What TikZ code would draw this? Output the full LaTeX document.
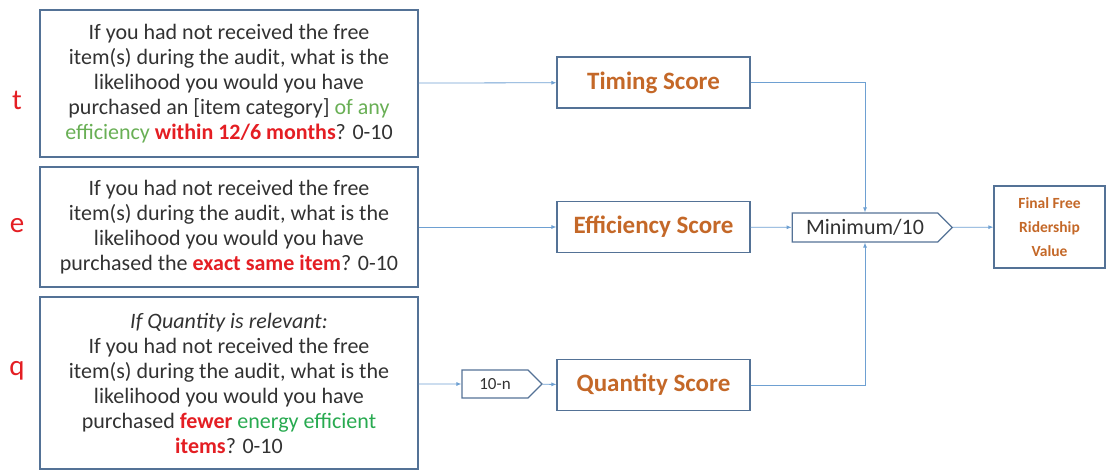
\documentclass[tikz,border=0pt]{standalone}
\usepackage{fontspec}
\setmainfont{Carlito}
\usetikzlibrary{arrows.meta,shapes.symbols}
\definecolor{boxline}{RGB}{84,114,150}
\definecolor{wireblue}{RGB}{110,160,210}
\definecolor{txt}{RGB}{50,50,50}
\definecolor{hot}{RGB}{228,30,35}
\definecolor{leaf}{RGB}{105,175,85}
\definecolor{leafb}{RGB}{40,170,80}
\definecolor{scorecol}{RGB}{196,104,40}
\begin{document}
\begin{tikzpicture}[x=1pt,y=-1pt,
  qbox/.style={draw=boxline,line width=1.2pt,minimum width=378pt,align=center,text=txt,font=\fontsize{22}{25}\selectfont},
  scorebox/.style={draw=boxline,line width=1.2pt,minimum width=193pt,minimum height=51pt,text=scorecol,font=\fontsize{25}{28}\selectfont\bfseries},
  opbox/.style={draw=boxline,line width=1.2pt,signal,signal to=east,signal pointer angle=90,text=txt},
  wire/.style={draw=wireblue,line width=0.8pt,-{Latex[length=5pt,width=4pt]}}]
\useasboundingbox (0,0) rectangle (1107,471);

% questions
\node[qbox,minimum height=147pt] (qt) at (229,83.5) {If you had not received the free\\item(s) during the audit, what is the\\likelihood you would you have\\purchased an [item category] \textcolor{leaf}{of any}\\\textcolor{leaf}{efficiency} \textcolor{hot}{\textbf{within 12/6 months}}? 0-10};
\node[qbox,minimum height=120pt] (qe) at (229,227) {If you had not received the free\\item(s) during the audit, what is the\\likelihood you would you have\\purchased the \textcolor{hot}{\textbf{exact same item}}? 0-10};
\node[qbox,minimum height=172pt] (qq) at (229,383) {\textit{If Quantity is relevant:}\\If you had not received the free\\item(s) during the audit, what is the\\likelihood you would you have\\purchased \textcolor{hot}{\textbf{fewer}} \textcolor{leafb}{energy efficient}\\\textcolor{hot}{\textbf{items}}? 0-10};

\foreach \l/\y in {t/100,e/226,q/371}
  \node[text=hot,font=\fontsize{29}{30}\selectfont] (lab\l) at (17,\y) {\l};

% scores
\node[scorebox] (timing) at (653.5,82.5) {Timing Score};
\node[scorebox] (eff) at (653.5,227) {Efficiency Score};
\node[scorebox] (qty) at (653.5,385) {Quantity Score};
\node[opbox,minimum width=160pt,minimum height=29pt,font=\fontsize{22}{24}\selectfont] (minv) at (865,227.5) {Minimum/10};
\node[opbox,minimum width=80pt,minimum height=28pt,font=\fontsize{17}{19}\selectfont] (tenn) at (495,384) {10-n};
\node[draw=boxline,line width=1.2pt,minimum width=111pt,minimum height=82pt,align=center,text=scorecol,font=\fontsize{15.5}{24}\selectfont\bfseries] (final) at (1049.5,227) {Final Free\\Ridership\\Value};

\draw[wire] (qt) -- (timing);
\draw[wire] (qe) -- (eff);
\draw[wire] (qq.east |- tenn) -- (tenn);
\draw[wire] (tenn) -- (qty);
\draw[wire] (eff) -- (minv);
\draw[wire] (minv) -- (final);
\draw[wire] (timing.east) -| (minv.north);
\draw[wire] (qty.east) -| (minv.south);
\end{tikzpicture}
\end{document}
